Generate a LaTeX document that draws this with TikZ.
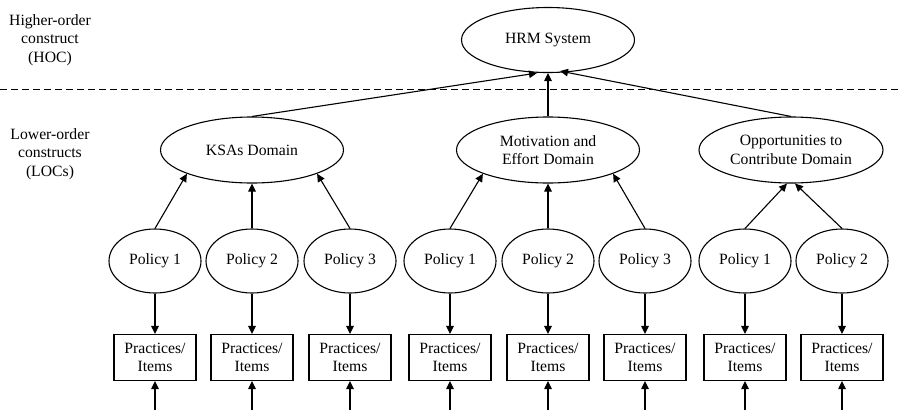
\documentclass[tikz,border=0pt]{standalone}
\usepackage{fontspec}
\setmainfont{Liberation Serif}
\usetikzlibrary{shapes.geometric,arrows.meta,calc}
\begin{document}
\begin{tikzpicture}[x=1pt,y=-1pt,
  every node/.style={font=\fontsize{15.7}{18.5}\selectfont, align=center, inner sep=0pt},
  oval/.style={draw, ellipse, line width=1.1pt},
  dom/.style={oval, minimum width=183pt, minimum height=66pt},
  pol/.style={oval, minimum width=92pt, minimum height=64pt},
  itembox/.style={draw, rectangle, line width=1.1pt, minimum width=82pt, minimum height=46pt},
  arr/.style={line width=1.1pt, -{Triangle[length=8pt,width=7.5pt]}},
  lbl/.style={}
]
\useasboundingbox (0,0) rectangle (902,410);
% labels
\node[lbl] (hoc) at (50,40) {Higher-order\\construct\\(HOC)};
\node[lbl] (loc) at (50,154) {Lower-order\\constructs\\(LOCs)};
% dashed divider
\coordinate (dl) at (0,89);
\coordinate (dr) at (902,89);
\draw[line width=1pt, dash pattern=on 7pt off 4pt] (dl) -- (dr);
% top
\node[oval, minimum width=173pt, minimum height=65pt] (hrm) at (548,40) {HRM System};
% domains
\node[dom] (ksa) at (252,150) {KSAs Domain};
\node[dom] (mot) at (548,150) {Motivation and\\Effort Domain};
\node[dom, minimum width=184pt] (opp) at (791,150) {Opportunities to\\Contribute Domain};
\draw[arr] (ksa.north) -- ($(hrm.south)+(-11,0)$);
\draw[arr] (mot.north) -- (hrm.south);
\draw[arr] (opp.north) -- ($(hrm.south)+(12,-2)$);
% policies
\foreach \n/\x/\t in {k1/155/Policy 1,k2/252/Policy 2,k3/350/Policy 3,m1/450/Policy 1,m2/548/Policy 2,m3/645/Policy 3,o1/745/Policy 1,o2/842/Policy 2}{
  \node[pol] (p\n) at (\x,261) {\t};
  \node[itembox] (b\n) at (\x,357.5) {Practices/\\Items};
  \coordinate (e\n) at (\x,410);
  \draw[arr] (p\n.south) -- (b\n.north);
  \draw[arr] (e\n) -- (b\n.south);
}
\draw[arr] (pk1.north) -- (ksa.south west);
\draw[arr] (pk2.north) -- (ksa.south);
\draw[arr] (pk3.north) -- (ksa.south east);
\draw[arr] (pm1.north) -- (mot.south west);
\draw[arr] (pm2.north) -- (mot.south);
\draw[arr] (pm3.north) -- (mot.south east);
\draw[arr] (po1.north) -- ($(opp.south)+(-4,0)$);
\draw[arr] (po2.north) -- ($(opp.south)+(4,0)$);
\end{tikzpicture}
\end{document}
